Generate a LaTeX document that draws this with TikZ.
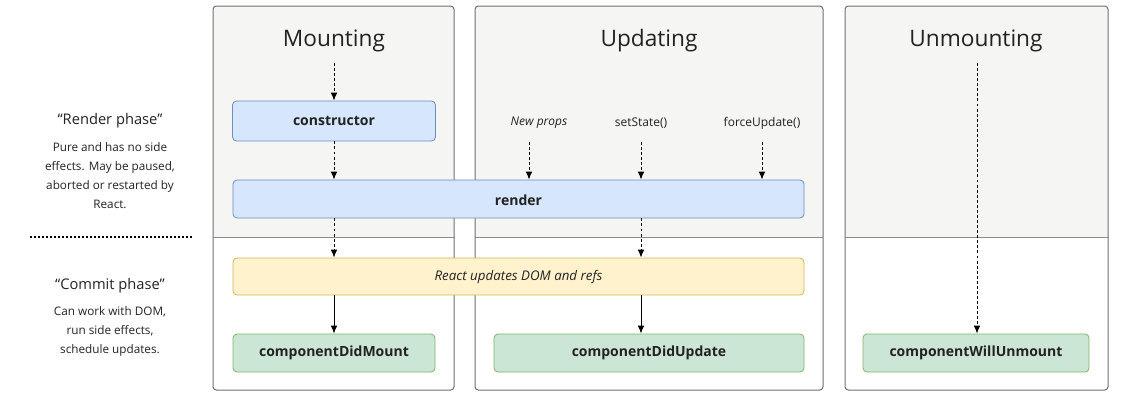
\documentclass[tikz,border=0pt]{standalone}
\usepackage{fontspec}
\setmainfont{Open Sans}
\usetikzlibrary{arrows.meta}
\definecolor{colfill}{HTML}{F5F5F3}
\definecolor{colline}{HTML}{707070}
\definecolor{blfill}{HTML}{D6E6FC}
\definecolor{blline}{HTML}{6C8EBF}
\definecolor{yefill}{HTML}{FFF2CC}
\definecolor{yeline}{HTML}{D6B656}
\definecolor{grfill}{HTML}{CCE6D6}
\definecolor{grline}{HTML}{82B366}
\definecolor{txt}{HTML}{222222}
\tikzset{
  box/.style={rounded corners=3pt, line width=0.6pt, inner sep=0pt, font=\fontsize{10.5pt}{12pt}\selectfont\bfseries, text=txt},
  bluebox/.style={box, draw=blline, fill=blfill},
  yellowbox/.style={box, draw=yeline, fill=yefill, font=\fontsize{10pt}{12pt}\selectfont\itshape},
  greenbox/.style={box, draw=grline, fill=grfill},
  title/.style={font=\fontsize{17pt}{20pt}\selectfont, text=txt, inner sep=0pt},
  small/.style={font=\fontsize{9pt}{10pt}\selectfont, text=txt, inner sep=0pt},
  dar/.style={dashed, dash pattern=on 2.2pt off 1.6pt, line width=0.75pt, -{Latex[length=6pt,width=5pt]}},
  sar/.style={line width=0.75pt, -{Latex[length=6pt,width=5pt]}},
  coltop/.style={fill=colfill},
  colborder/.style={draw=colline, line width=0.75pt, rounded corners=2.5pt},
  divider/.style={draw=colline!80, line width=0.6pt},
  phasehead/.style={font=\fontsize{11pt}{13pt}\selectfont, text=txt, inner sep=0pt},
  phasebody/.style={font=\fontsize{8.8pt}{14.25pt}\selectfont, text=txt, inner sep=0pt, align=center},
}
\begin{document}
\begin{tikzpicture}[x=0.75pt,y=-0.75pt]
\useasboundingbox (0,0) rectangle (1127,407);
\fill[white] (0,0) rectangle (1127,407);
% columns
\foreach \a/\b in {213/454, 475/823, 845/1108}{
  \fill[coltop] (\a,237) [rounded corners=2.5pt] -- (\a,6) -- (\b,6) [sharp corners] -- (\b,237) -- cycle;
  \draw[divider] (\a,237) -- (\b,237);
  \draw[colborder] (\a,6) rectangle (\b,390);
}
% titles
\node[title] (tm) at (334,41) {Mounting};
\node[title] (tu) at (649,41) {Updating};
\node[title] (tn) at (976,41) {Unmounting};
\coordinate (ms) at (334,63);
\coordinate (ns) at (977,63);
% nodes
\node[bluebox, minimum width=203*0.75pt, minimum height=40*0.75pt] (ctor) at (334,121) {constructor};
\node[bluebox, minimum width=571*0.75pt, minimum height=38*0.75pt] (render) at (518.5,199) {};
\node[box] (rendertxt) at (518.5,200) {render};
\node[yellowbox, minimum width=571*0.75pt, minimum height=37*0.75pt] (dom) at (518.5,276.5) {React updates DOM and refs};
\node[greenbox, minimum width=202*0.75pt, minimum height=38*0.75pt] (cdm) at (334,353) {componentDidMount};
\node[greenbox, minimum width=310*0.75pt, minimum height=38*0.75pt] (cdu) at (649,353) {componentDidUpdate};
\node[greenbox, minimum width=226*0.75pt, minimum height=38*0.75pt] (cwu) at (976,353) {componentWillUnmount};
% update labels
\node[small, font=\fontsize{9pt}{10pt}\selectfont\itshape] (np) at (539,123) {New props};
\node[small] (ss) at (641,123) {setState()};
\node[small] (fu) at (762,123) {forceUpdate()};
\coordinate (nps) at (529,142);
\coordinate (sss) at (641,142);
\coordinate (fus) at (762,142);
% arrows
\draw[dar] (ms) -- (ctor.north);
\draw[dar] (ctor.south) -- (ctor.south |- render.north);
\draw[dar] (ctor.south |- render.south) -- (ctor.south |- dom.north);
\draw[sar] (ctor.south |- dom.south) -- (cdm.north);
\draw[dar] (nps) -- (nps |- render.north);
\draw[dar] (sss) -- (sss |- render.north);
\draw[dar] (fus) -- (fus |- render.north);
\draw[dar] (sss |- render.south) -- (sss |- dom.north);
\draw[sar] (sss |- dom.south) -- (sss |- cdu.north);
\draw[dar] (ns) -- (ns |- cwu.north);
% left phase texts
\node[phasehead] (rp) at (110,121) {“Render phase”};
\node[phasebody, anchor=north] (rpb) at (110,142) {Pure and has no side\\effects. May be paused,\\aborted or restarted by\\React.};
\coordinate (dl) at (30,237);
\coordinate (dr) at (193,237);
\draw[line width=1.8pt, dash pattern=on 1.6pt off 1.4pt] (dl) -- (dr);
\node[phasehead] (cp) at (110,286) {“Commit phase”};
\node[phasebody, anchor=north] (cpb) at (110,306) {Can work with DOM,\\run side effects,\\schedule updates.};
\end{tikzpicture}
\end{document}
